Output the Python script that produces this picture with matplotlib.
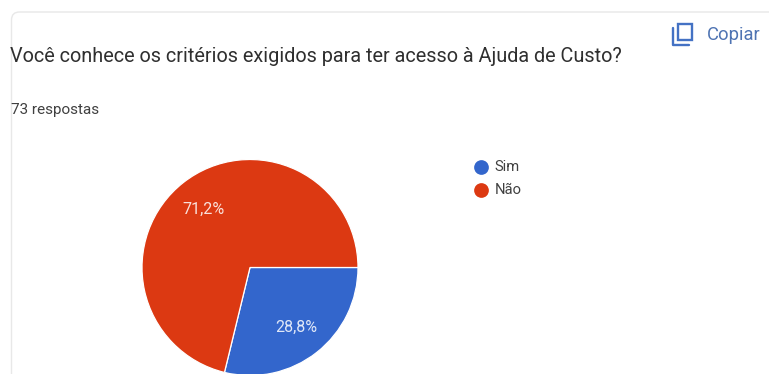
import matplotlib
matplotlib.use('Agg')
import matplotlib.pyplot as plt
from matplotlib.patches import FancyBboxPatch, Rectangle

plt.rcParams['font.family'] = 'Roboto'

# dados do grafico
categorias = ['Sim', 'Não']
percentuais = [28.8, 71.2]
cores = ['#3366cc', '#dc3912']
titulo = 'Você conhece os critérios exigidos para ter acesso à Ajuda de Custo?'
respostas = '73 respostas'

LARGURA, ALTURA = 769, 374


def y_px(y):
    # coordenada y medida a partir do topo da figura
    return ALTURA - y


fig = plt.figure(figsize=(LARGURA / 100, ALTURA / 100), dpi=100)
ax = fig.add_axes([0, 0, 1, 1])
ax.set_xlim(0, LARGURA)
ax.set_ylim(0, ALTURA)
ax.axis('off')

# borda do cartao
cartao = FancyBboxPatch((11.5, y_px(500)), 900, 488,
                        boxstyle='round,pad=0,rounding_size=8',
                        fc='white', ec='#e8e8e8', lw=1.0)
ax.add_patch(cartao)

# textos do cabecalho
ax.text(10.5, y_px(56.5), titulo, fontsize=14.32, color='#2f2f2f', va='center', ha='left')
ax.text(11, y_px(110), respostas, fontsize=10.95, color='#404040', va='center', ha='left')

# botao copiar
azul = '#4472c4'
ax.add_patch(Rectangle((677.5, y_px(40)), 14, 16, fc='white', ec=azul, lw=1.7, zorder=3))
ax.plot([672.5, 672.5, 689], [y_px(28), y_px(45), y_px(45)], color=azul, lw=1.7,
        solid_capstyle='round', zorder=3)
ax.text(707, y_px(35), 'Copiar', fontsize=13.2, color='#4f74b3', va='center', ha='left')


def formata_pct(valor):
    return f'{valor:.1f}%'.replace('.', ',')


# pizza
fatias, _, rotulos = ax.pie(percentuais, colors=cores, center=(250, y_px(267.5)), radius=108,
                            startangle=0, counterclock=False, autopct=formata_pct,
                            pctdistance=0.695, frame=True,
                            wedgeprops={'edgecolor': 'white', 'linewidth': 0.9})
for rotulo in rotulos:
    rotulo.set_color('white')
    rotulo.set_fontsize(11.5)
    rotulo.set_alpha(0.85)
    x, y = rotulo.get_position()
    rotulo.set_position((x - 0.5, y - 1.2))

# pie altera os limites e o aspecto, entao volta para a escala em pixels
ax.set_xlim(0, LARGURA)
ax.set_ylim(0, ALTURA)
ax.set_aspect('auto')
ax.axis('off')

# legenda
for categoria, cor, y in zip(categorias, cores, [167, 190]):
    ax.plot([481], [y_px(y)], 'o', ms=10.6, color=cor, mec='none')
    ax.text(494.5, y_px(y), categoria, fontsize=10.6, color='#404040', va='center', ha='left')

fig.savefig('out.png', dpi=100, facecolor='white')
